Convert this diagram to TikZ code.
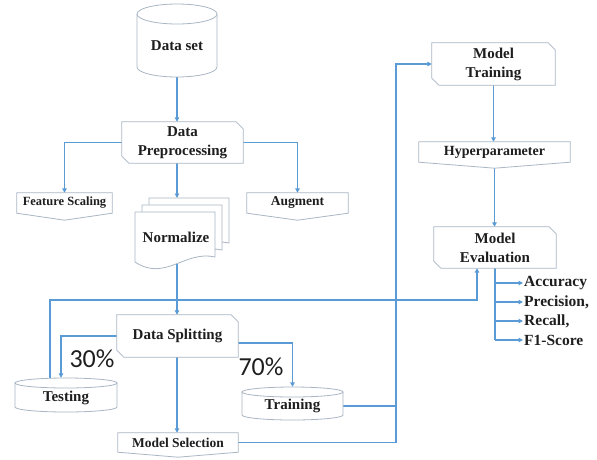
\documentclass[tikz,border=0pt]{standalone}
\usepackage{fontspec}
\setmainfont{Liberation Serif}
\newfontfamily\pctfont{Carlito}
\usetikzlibrary{arrows.meta}
\pgfdeclarelayer{lines}
\pgfdeclarelayer{shapes}
\pgfsetlayers{lines,shapes,main}
\definecolor{arrowblue}{HTML}{5B9BD5}
\definecolor{boxgray}{HTML}{A9B6C4}
\definecolor{txt}{HTML}{1E1E1E}
\newcommand\cutshape[1]{\draw[outline] (#1.north west) -- ([xshift=-7pt]#1.north east) -- ([yshift=-7pt]#1.north east) -- (#1.south east) -- ([xshift=7pt]#1.south west) -- ([yshift=7pt]#1.south west) -- cycle;}
\newcommand\tagshape[2]{\draw[outline] (#1.south west) -- (#1.north west) -- (#1.north east) -- (#1.south east) -- ([yshift=-#2]#1.south) -- cycle;}
% cx, top-ellipse centre y, bottom-ellipse centre y, rx, ry
\newcommand\cylshape[5]{%
  \draw[outline] (#1-#4,#2) -- (#1-#4,#3) arc[start angle=180,end angle=0,x radius=#4,y radius=#5] -- (#1+#4,#2);
  \draw[outline] (#1,#2) ellipse[x radius=#4,y radius=#5];}
\newcommand\docshape[2]{%
  \draw[outline,shift={(#1,#2)}] (135,212) -- (215,212) -- (215,257) .. controls (185,250) and (165,282) .. (135,262) -- cycle;}
\begin{document}
\begin{tikzpicture}[x=1pt,y=-1pt,
  conn/.style={draw=arrowblue,line width=1.5pt},
  arr/.style={conn,-{Triangle[length=4.5pt,width=4.5pt]}},
  outline/.style={draw=boxgray,line width=0.8pt,fill=white},
  lbl/.style={inner sep=0pt,text=txt,align=center,font=\bfseries\fontsize{15}{19}\selectfont},
  smalllbl/.style={lbl,font=\bfseries\fontsize{#1}{16}\selectfont},
  metric/.style={anchor=west,inner sep=1pt,text=txt,font=\bfseries\fontsize{15.5}{18}\selectfont},
  pct/.style={inner sep=0pt,text=txt,font=\pctfont\fontsize{26}{28}\selectfont},
]
\useasboundingbox (0,0) rectangle (597,459);

% ---- nodes (text) ----
\node[lbl,minimum width=80,minimum height=63] (ds) at (177,45.5) {Data set};
\node[lbl,minimum width=121,minimum height=41] (dp) at (182.5,142.5) {Data\\Preprocessing};
\node[smalllbl=12.5,minimum width=95,minimum height=20] (fs) at (64.5,203) {Feature Scaling};
\node[smalllbl=13.5,minimum width=101,minimum height=20] (au) at (297.5,203) {Augment};
\node[lbl,minimum width=80,minimum height=50] (nm) at (176,237) {Normalize};
\coordinate (nmtop) at (177,198);
\node[lbl,minimum width=121,minimum height=42] (sp) at (177.5,336) {Data Splitting};
\node[lbl,minimum width=102,minimum height=29] (te) at (66,397.5) {Testing};
\node[lbl,minimum width=101,minimum height=28] (tr) at (292.5,406) {Training};
\node[smalllbl=13.5,minimum width=120,minimum height=19] (ms) at (178,442.5) {Model Selection};
\node[lbl,minimum width=123,minimum height=42] (mt) at (493.5,64) {Model\\Training};
\node[smalllbl=14,minimum width=151,minimum height=20] (hp) at (494.5,152) {Hyperparameter};
\node[lbl,minimum width=122,minimum height=41] (me) at (495,247.5) {Model\\Evaluation};
\node[metric] (acc) at (523,283) {Accuracy};
\node[metric] (prec) at (523,302) {Precision,};
\node[metric] (rec) at (523,321) {Recall,};
\node[metric] (f1) at (523,340) {F1-Score};
\node[pct] (p30) at (92,359) {30\%};
\node[pct] (p70) at (261,367) {70\%};
\coordinate (trunk) at (396,63);
\coordinate (evalin) at (477,300);

% ---- shapes ----
\begin{pgfonlayer}{shapes}
\cylshape{177}{14}{67}{40}{10}
\cutshape{dp}
\tagshape{fs}{7pt}
\tagshape{au}{7pt}
\docshape{14}{-14}
\docshape{7}{-7}
\docshape{0}{0}
\cutshape{sp}
\cylshape{66}{383}{407}{51}{5}
\cylshape{292.5}{392}{415}{50.5}{5}
\tagshape{ms}{5pt}
\cutshape{mt}
\tagshape{hp}{6pt}
\cutshape{me}
\end{pgfonlayer}

% ---- connectors ----
\begin{pgfonlayer}{lines}
\draw[arr] (ds.south) -- (ds.south |- dp.north);
\draw[arr] (dp.west) -| (fs.north);
\draw[arr] (dp.east) -| (au.north);
\draw[arr] (nmtop |- dp.south) -- (nmtop);
\draw[arr] (nmtop |- nm.south) -- (nmtop |- sp.north);
\draw[arr] (sp.west) -| ([xshift=-5pt,yshift=5pt]te.north);
\draw[arr] ([yshift=-7pt]sp.east) -| ([yshift=5pt]tr.north);
\draw[arr] (nmtop |- sp.south) -- (nmtop |- ms.north);
\draw[arr] ([xshift=-16pt,yshift=5pt]te.north) |- (evalin) -- (evalin |- me.south);
\draw[conn] (tr.east) -- (tr.east -| trunk);
\draw[arr] (ms.east) -| (trunk |- mt.west) -- (mt.west);
\draw[arr] (mt.south) -- (mt.south |- hp.north);
\draw[arr] ([yshift=-6pt]hp.south) -- (hp.south |- me.north);
\draw[conn] (me.south) -- (me.south |- f1.west);
\foreach \m in {acc,prec,rec,f1} \draw[arr] (me.south |- \m.west) -- (\m.west);
\end{pgfonlayer}
\end{tikzpicture}
\end{document}
